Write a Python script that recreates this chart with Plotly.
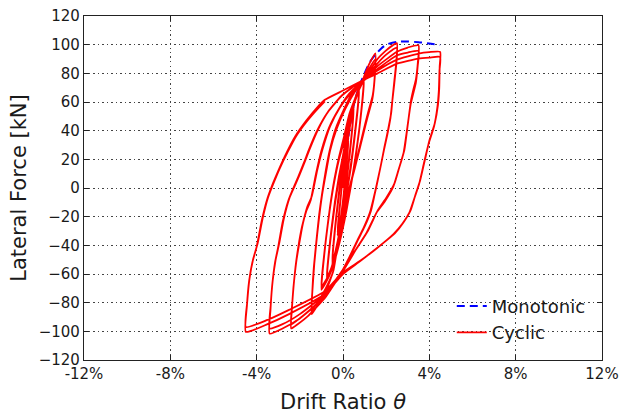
import plotly.graph_objects as go

# Monotonic pushover curve: (drift %, lateral force kN)
monotonic = [(0, 0), (0.25, 36), (0.5, 58), (0.75, 71), (1.0, 80), (1.25, 88),
             (1.5, 93), (1.75, 97), (2.0, 100), (2.5, 102), (3.0, 102.2),
             (3.5, 101.7), (4.0, 100.8), (4.5, 99.8)]

# Cyclic test, grouped by drift amplitude (two cycles per level)
loop_025 = [(0, 0), (0.08, 14), (0.16, 25), (0.25, 35), (0.2, 24), (0.12, 10), (0.03, -5),
            (-0.07, -17), (-0.16, -26), (-0.25, -33), (-0.2, -22), (-0.12, -9), (-0.03, 5),
            (0.06, 14), (0.15, 25), (0.25, 33), (0.2, 22), (0.11, 8), (0.02, -6),
            (-0.08, -18), (-0.17, -26), (-0.25, -31), (-0.2, -20), (-0.11, -7), (-0.02, 6)]

loop_050 = [(0.1, 20), (0.25, 36), (0.38, 48), (0.5, 57), (0.44, 44), (0.32, 26), (0.18, 8),
            (0.04, -10), (-0.12, -27), (-0.28, -40), (-0.4, -48), (-0.5, -53), (-0.44, -40),
            (-0.32, -22), (-0.18, -4), (-0.05, 12),
            (0.1, 24), (0.25, 38), (0.38, 48), (0.5, 55), (0.43, 41), (0.31, 23), (0.17, 5),
            (0.03, -12), (-0.13, -28), (-0.29, -40), (-0.4, -47), (-0.5, -51), (-0.43, -37),
            (-0.31, -19), (-0.17, -1), (-0.04, 14)]

loop_075 = [(0.12, 30), (0.3, 46), (0.5, 59), (0.62, 65), (0.75, 70), (0.68, 56), (0.54, 37),
            (0.38, 18), (0.2, 0), (0.02, -17), (-0.17, -33), (-0.37, -47), (-0.56, -58),
            (-0.75, -64), (-0.68, -50), (-0.55, -32), (-0.38, -12), (-0.2, 5), (-0.02, 20),
            (0.15, 33), (0.33, 47), (0.5, 58), (0.75, 68), (0.67, 53), (0.53, 34), (0.37, 15),
            (0.18, -3), (0, -19), (-0.19, -35), (-0.39, -48), (-0.57, -57), (-0.75, -62),
            (-0.67, -47), (-0.54, -29), (-0.37, -9), (-0.19, 8), (-0.01, 22)]

loop_100 = [(0.18, 38), (0.38, 53), (0.6, 64), (0.8, 71), (0.97, 77), (0.9, 62), (0.76, 42),
            (0.58, 22), (0.38, 3), (0.17, -15), (-0.05, -31), (-0.28, -45), (-0.52, -57),
            (-0.76, -65), (-1.0, -71), (-0.93, -56), (-0.8, -37), (-0.62, -16), (-0.42, 3),
            (-0.2, 19), (0.0, 30),
            (0.22, 44), (0.45, 57), (0.7, 67), (0.97, 75), (0.89, 59), (0.74, 39), (0.56, 19),
            (0.35, 0), (0.13, -18), (-0.1, -34), (-0.35, -48), (-0.6, -59), (-1.0, -69),
            (-0.92, -53), (-0.78, -34), (-0.6, -13), (-0.4, 6), (-0.18, 22), (0.05, 36)]

loop_150 = [(0.3, 52), (0.6, 64), (0.9, 75), (1.2, 86), (1.5, 94),
            (1.47, 78), (1.38, 65), (1.15, 52), (0.95, 40), (0.77, 28.6), (0.57, 16), (0.38, 5),
            (0.2, -6), (0.05, -17), (-0.12, -30), (-0.3, -45), (-0.45, -58), (-0.8, -72),
            (-1.15, -81), (-1.45, -88),
            (-1.42, -72), (-1.35, -55), (-1.22, -35), (-1.1, -18), (-0.98, -5), (-0.8, 12),
            (-0.62, 26), (-0.35, 41), (0.05, 55), (0.45, 67), (0.9, 74.5),
            (1.2, 83), (1.5, 90),
            (1.46, 75), (1.36, 62), (1.13, 49), (0.93, 37), (0.75, 26), (0.55, 14), (0.36, 3),
            (0.18, -8), (0.03, -19), (-0.14, -32), (-0.32, -47), (-0.47, -59), (-0.8, -70),
            (-1.15, -79), (-1.45, -85),
            (-1.41, -70), (-1.33, -53), (-1.2, -33), (-1.07, -16), (-0.95, -3), (-0.76, 13),
            (-0.6, 26), (-0.3, 41), (0.1, 55), (0.5, 66), (0.9, 74)]

loop_250 = [(1.6, 90), (2.0, 96), (2.3, 99.5), (2.5, 101),
            (2.47, 88), (2.38, 75), (2.3, 63), (2.23, 52), (2.08, 40), (1.92, 28.6), (1.77, 17),
            (1.61, 5.4), (1.46, -5), (1.3, -15.6), (1.0, -27), (0.7, -36), (0.35, -47),
            (0.0, -58), (-0.4, -67), (-0.8, -76), (-1.6, -89), (-2.1, -95), (-2.4, -98),
            (-2.37, -85), (-2.3, -70), (-2.2, -55), (-2.07, -41), (-1.9, -27), (-1.7, -16),
            (-1.5, -8.7), (-1.25, 10), (-1.0, 26), (-0.65, 42), (-0.2, 55), (0.3, 66), (0.9, 75),
            (1.6, 87), (2.0, 93), (2.3, 96.5), (2.5, 98),
            (2.46, 85), (2.37, 72), (2.28, 60), (2.2, 49), (2.05, 37), (1.89, 26), (1.73, 14),
            (1.57, 3), (1.42, -7), (1.25, -17), (0.95, -28), (0.65, -37), (0.3, -48),
            (-0.05, -58), (-0.42, -66), (-0.8, -74), (-1.6, -86), (-2.1, -92), (-2.4, -95),
            (-2.36, -82), (-2.28, -67), (-2.17, -52), (-2.03, -39), (-1.86, -25), (-1.65, -13),
            (-1.45, -6), (-1.2, 12), (-0.95, 27), (-0.6, 43), (-0.15, 56), (0.35, 66), (0.9, 74.5)]

loop_350 = [(1.6, 85), (2.5, 95), (3.0, 98), (3.5, 99.5),
            (3.47, 88), (3.38, 76), (3.25, 68), (3.15, 61), (3.0, 44), (2.84, 26.3), (2.6, 14),
            (2.38, 3), (2.0, -7), (1.61, -15.6), (1.15, -30), (0.6, -43), (0.0, -58),
            (-0.84, -76), (-2.0, -91), (-2.8, -98), (-3.4, -101.6),
            (-3.36, -85), (-3.28, -68), (-3.15, -52), (-3.0, -41), (-2.8, -24), (-2.53, -8.7),
            (-2.3, 0), (-2.07, 8), (-1.8, 18), (-1.6, 26), (-1.2, 40), (-0.7, 53), (-0.1, 64),
            (0.4, 70), (0.9, 75),
            (1.6, 83), (2.5, 92.6), (3.0, 94.5), (3.5, 95.6),
            (3.46, 85), (3.37, 73), (3.24, 65), (3.13, 58), (2.97, 41), (2.8, 24), (2.56, 12),
            (2.33, 1), (1.95, -9), (1.56, -17), (1.1, -31), (0.55, -44), (-0.05, -58),
            (-0.84, -74), (-2.0, -88), (-2.8, -95), (-3.4, -98),
            (-3.35, -82), (-3.26, -65), (-3.12, -50), (-2.96, -39), (-2.75, -22), (-2.48, -7),
            (-2.25, 1), (-2.02, 9), (-1.75, 19), (-1.55, 27), (-1.15, 41), (-0.65, 54),
            (-0.05, 64.5), (0.42, 70), (0.9, 74.5)]

loop_450 = [(1.6, 82), (2.5, 89.6), (3.5, 93.8), (4.0, 94.8), (4.5, 95),
            (4.48, 85), (4.46, 70), (4.4, 58), (4.25, 45), (4.0, 33), (3.8, 20), (3.57, 5),
            (3.35, -5), (3.13, -15.6), (2.8, -24), (2.4, -31.6), (1.61, -41.4), (0.8, -51),
            (0.0, -60), (-0.84, -74), (-2.5, -88), (-3.5, -95), (-4.5, -100.4),
            (-4.45, -82), (-4.35, -65), (-4.2, -52), (-4.0, -41), (-3.76, -22.5), (-3.53, -8.7),
            (-3.25, 3), (-3.0, 12), (-2.6, 25), (-2.23, 35.6), (-1.7, 47), (-1.15, 57),
            (-0.84, 61.5), (0, 68), (0.9, 75),
            (1.6, 80), (2.5, 86.8), (3.5, 90.3), (4.0, 91), (4.5, 91.4),
            (4.47, 82), (4.44, 68), (4.37, 56), (4.22, 43), (3.97, 31), (3.76, 18), (3.53, 3),
            (3.31, -7), (3.08, -17), (2.75, -25), (2.35, -32), (1.57, -42), (0.78, -51),
            (-0.02, -59), (-0.84, -72), (-2.5, -85), (-3.5, -92), (-4.5, -97),
            (-4.44, -80), (-4.33, -63), (-4.17, -50), (-3.96, -39), (-3.72, -21), (-3.48, -7),
            (-3.2, 4), (-2.95, 13), (-2.55, 25.5), (-2.18, 36), (-1.65, 47), (-1.1, 56.5),
            (-0.84, 60.5)]

x_ticks = [-12, -8, -4, 0, 4, 8, 12]
x_labels = ["-12%", "-8%", "-4%", "0%", "4%", "8%", "12%"]
y_ticks = list(range(-120, 121, 20))
y_labels = [str(v).replace("-", "\u2212") for v in y_ticks]

cyclic = loop_025 + loop_050 + loop_075 + loop_100 + loop_150 + loop_250 + loop_350 + loop_450
cyc_drift, cyc_force = zip(*cyclic)
mono_drift, mono_force = zip(*monotonic)

FONT = "DejaVu Sans"
INK = "#1a1a1a"

fig = go.Figure()
fig.add_trace(go.Scatter(
    x=mono_drift, y=mono_force, mode="lines", name="Monotonic",
    line=dict(color="#0000ff", width=2, dash="8px,5px", shape="spline", smoothing=0.6),
))
fig.add_trace(go.Scatter(
    x=cyc_drift, y=cyc_force, mode="lines", name="Cyclic",
    line=dict(color="#ff0000", width=1.8, shape="spline", smoothing=0.5),
))

axis_common = dict(
    showline=True, linecolor="#222", linewidth=1.2, mirror="allticks",
    ticks="inside", ticklen=5, tickcolor="#222", tickwidth=1,
    showgrid=True, gridcolor="#444", gridwidth=1, griddash="1.5px,3px",
    zeroline=False, ticklabeloverflow="allow",
    tickfont=dict(family=FONT, size=15, color=INK),
)

fig.update_xaxes(range=[-12, 12], tickvals=x_ticks, ticktext=x_labels,
                 title=dict(text="Drift Ratio <i>θ</i>", font=dict(family=FONT, size=21, color=INK),
                            standoff=13),
                 **axis_common)
fig.update_yaxes(range=[-120, 120], tickvals=y_ticks, ticktext=y_labels,
                 title=dict(text="Lateral Force [kN]", font=dict(family=FONT, size=21, color=INK),
                            standoff=6),
                 **axis_common)

fig.update_layout(
    width=621, height=414,
    margin=dict(l=84, r=19, t=16, b=54, autoexpand=False),
    paper_bgcolor="white", plot_bgcolor="white",
    font=dict(family=FONT, color=INK),
    legend=dict(x=0.71, y=0.21, xanchor="left", yanchor="top",
                bgcolor="rgba(0,0,0,0)", borderwidth=0,
                font=dict(family=FONT, size=18, color=INK)),
)

fig.write_html("out.html")
